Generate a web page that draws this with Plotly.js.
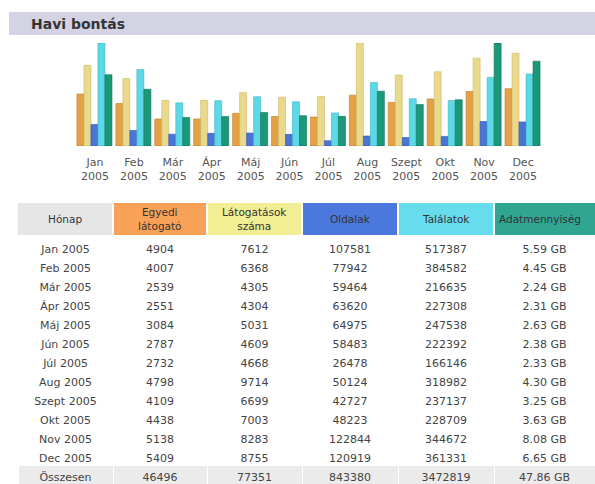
<!DOCTYPE html>
<html>
<head>
<meta charset="utf-8">
<script src="https://cdn.plot.ly/plotly-3.0.1.min.js"></script>
<style>
html,body{margin:0;padding:0;overflow:hidden;background:#fff;}
#chart{width:595px;height:490px;}
</style>
</head>
<body>
<div id="chart"></div>
<script>
// ---- data ----
const months = ['Jan','Feb','Már','Ápr','Máj','Jún','Júl','Aug','Szept','Okt','Nov','Dec'];
const year = '2005';
const visitors = [4904,4007,2539,2551,3084,2787,2732,4798,4109,4438,5138,5409];
const visits = [7612,6368,4305,4304,5031,4609,4668,9714,6699,7003,8283,8755];
const pages = [107581,77942,59464,63620,64975,58483,26478,50124,42727,48223,122844,120919];
const hits = [517387,384582,216635,227308,247538,222392,166146,318982,237137,228709,344672,361331];
const bandwidthGB = [5.59,4.45,2.24,2.31,2.63,2.38,2.33,4.30,3.25,3.63,8.08,6.65];
const totalLabel = 'Összesen';
const totals = ['46496','77351','843380','3472819','47.86 GB'];
const headers = ['Hónap','Egyedi<br>látogató','Látogatások<br>száma','Oldalak','Találatok','Adatmennyiség'];
const chartTitle = 'Havi bontás';

// ---- layout helpers ----
const W = 595, H = 490;
const px = v => v / W;
const py = v => (H - v) / H;
const FONT = 'DejaVu Sans, Verdana, sans-serif';

const xcats = months.map(m => m + '<br>' + year);
const barW = 0.18;
const colors = ['#E2A245','#E9D98D','#4A74D6','#5CD8E6','#1B9878'];
const series = [
  {name:'Egyedi látogató', y: visitors, axis:'y'},
  {name:'Látogatások száma', y: visits, axis:'y'},
  {name:'Oldalak', y: pages, axis:'y2'},
  {name:'Találatok', y: hits, axis:'y2'},
  {name:'Adatmennyiség', y: bandwidthGB, axis:'y3'}
];
const offsets = [-0.463,-0.283,-0.103,0.077,0.257];
const lineCols = ['#C07A25','#CDB768','#2F55B0','#3FB5C5','#0E7358'];

const traces = series.map((s,i) => ({
  type:'bar', x: xcats, y: s.y, yaxis: s.axis, name: s.name,
  width: barW, offset: offsets[i],
  marker:{color: colors[i], line:{color: lineCols[i], width: 0.6}},
  showlegend:false, hoverinfo:'none'
}));

// table body (first data row used as the table's own header row)
const col0 = months.map(m => m + ' ' + year).concat([totalLabel]);
const col1 = visitors.map(String).concat([totals[0]]);
const col2 = visits.map(String).concat([totals[1]]);
const col3 = pages.map(String).concat([totals[2]]);
const col4 = hits.map(String).concat([totals[3]]);
const col5 = bandwidthGB.map(v => v.toFixed(2) + ' GB').concat([totals[4]]);
const cols = [col0,col1,col2,col3,col4,col5];
const nRows = col0.length;
const rowFill = Array.from({length:nRows-1}, (_,i) => i === nRows-2 ? '#EBEBEB' : '#FFFFFF');
const cellFont = {family:FONT, size:11, color:'#444'};

const colEdges = [18,113,207,302,398,494,595];
const colWidths = colEdges.slice(1).map((e,i) => e - colEdges[i]);

traces.push({
  type:'table',
  domain:{x:[px(18),1], y:[0, py(237)]},
  columnwidth: colWidths,
  header:{
    values: cols.map(c => [c[0]]),
    fill:{color:'#FFFFFF'},
    font: cellFont,
    align:'center',
    height:19,
    line:{color:'#FFFFFF', width:1}
  },
  cells:{
    values: cols.map(c => c.slice(1)),
    fill:{color: cols.map(() => rowFill)},
    font: cellFont,
    align:'center',
    height:19,
    line:{color:'#FFFFFF', width:1}
  }
});

// column header cells drawn as shapes + annotations
const headFill = ['#E6E6E6','#F9A257','#F2EE94','#4A78DC','#66DCEC','#2FA592'];
const shapes = [{type:'rect', xref:'paper', yref:'paper', x0:px(9), x1:1, y0:py(35), y1:py(12),
                 fillcolor:'#D3D3E3', line:{width:0}, layer:'below'}];
const annotations = [{text:'<b>' + chartTitle + '</b>', xref:'paper', yref:'paper', x:px(29), y:py(23.5),
                      xanchor:'left', yanchor:'middle', showarrow:false,
                      font:{family:FONT, size:14, color:'#333'}}];
headers.forEach((h,i) => {
  const x0 = colEdges[i] + (i === 0 ? 0 : 1);
  const x1 = colEdges[i+1] - (i === headers.length-1 ? 0 : 1);
  shapes.push({type:'rect', xref:'paper', yref:'paper', x0:px(x0), x1:px(x1), y0:py(235), y1:py(203),
               fillcolor: headFill[i], line:{width:0}, layer:'below'});
  const last = i === headers.length-1;
  annotations.push({text:h, xref:'paper', yref:'paper',
                    x: last ? px(x0 + 2) : px((x0 + x1)/2), xanchor: last ? 'left' : 'center',
                    y: py(219), yanchor:'middle', showarrow:false, align:'center',
                    font:{family:FONT, size:10.5, color:'#333'}});
});

const yDom = [py(146), py(43)];
const layout = {
  width: W, height: H,
  margin:{l:0,r:0,t:0,b:0},
  paper_bgcolor:'#FFFFFF', plot_bgcolor:'rgba(0,0,0,0)',
  barmode:'overlay',
  xaxis:{domain:[px(75.5), px(542.5)], type:'category', range:[-0.5, 11.5],
         showgrid:false, zeroline:false, showline:false, ticks:'', fixedrange:true,
         ticklabelstandoff:8,
         tickfont:{family:FONT, size:11, color:'#555'}},
  yaxis:{domain:yDom, range:[0, Math.max(...visits)], visible:false, fixedrange:true},
  yaxis2:{overlaying:'y', anchor:'x', range:[0, Math.max(...hits)], visible:false, fixedrange:true},
  yaxis3:{overlaying:'y', anchor:'x', range:[0, Math.max(...bandwidthGB)], visible:false, fixedrange:true},
  shapes: shapes,
  annotations: annotations
};

Plotly.newPlot('chart', traces, layout, {displayModeBar:false, staticPlot:true});
</script>
</body>
</html>
